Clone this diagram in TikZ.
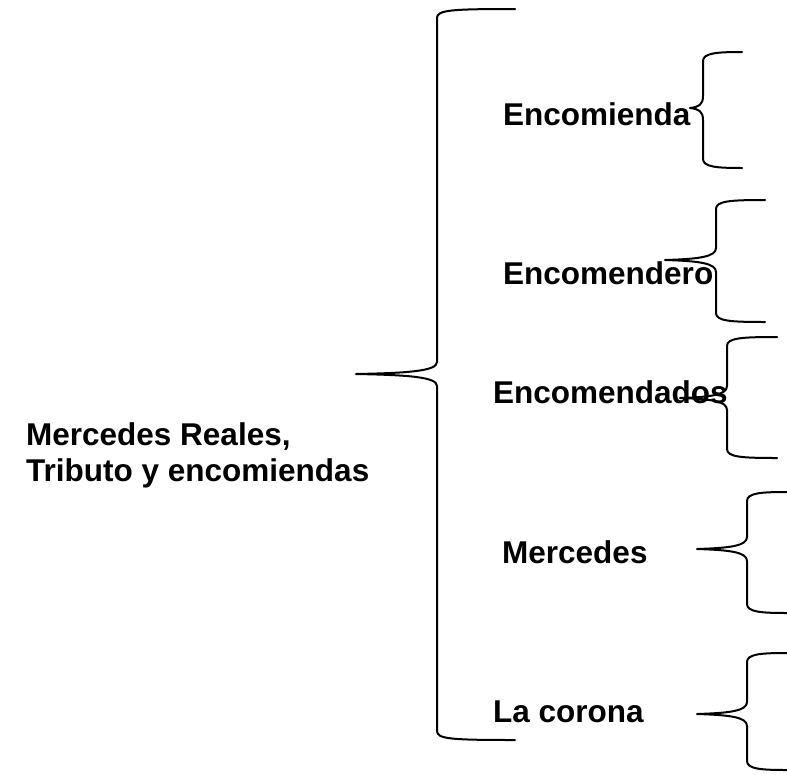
\documentclass[tikz,border=0pt]{standalone}
\usepackage{fontspec}
\setmainfont{Liberation Sans}
\newcommand\drawbrace[7]{% #1 spine x, #2 top y, #3 bottom y, #4 cusp y, #5 tip x, #6 arm end x, #7 name
  \coordinate (#7) at (#5,#4);
  \draw[braceline] (#6,#2) .. controls (#1+14,#2) and (#1,#2+1) .. (#1,#2+9)
    -- (#1,#4-12) .. controls (#1,#4-3) and ({#1-0.35*(#1-#5)},#4-1) .. (#7)
    .. controls ({#1-0.35*(#1-#5)},#4+1) and (#1,#4+3) .. (#1,#4+12)
    -- (#1,#3-9) .. controls (#1,#3-1) and (#1+14,#3) .. (#6,#3);
}
\tikzset{
  braceline/.style={line width=2pt, line cap=round, line join=round},
  lbl/.style={inner sep=0pt, anchor=base west, font=\fontsize{31.5}{37}\selectfont\bfseries},
  mainlbl/.style={inner sep=0pt, anchor=base west, align=left, font=\fontsize{31.5}{36}\selectfont\bfseries}
}
\begin{document}
\begin{tikzpicture}[x=1pt, y=-1pt]
\useasboundingbox (0,0) rectangle (787,774);
\node[mainlbl] (main) at (26,481) {Mercedes Reales,\\Tributo y encomiendas};
\node[lbl] (l1) at (503,125) {Encomienda};
\node[lbl] (l2) at (503,284) {Encomendero};
\node[lbl] (l3) at (493,403) {Encomendados};
\node[lbl] (l4) at (502,563) {Mercedes};
\node[lbl] (l5) at (493,722) {La corona};
\drawbrace{437}{9}{740}{374}{356}{515}{b0}
\drawbrace{703}{52}{168}{108}{690}{742}{b1}
\drawbrace{716}{200}{322}{260}{665}{765}{b2}
\drawbrace{727}{337}{458}{398}{680}{777}{b3}
\drawbrace{747}{492}{613}{549}{697}{787}{b4}
\drawbrace{747}{653}{770}{714}{697}{787}{b5}
\end{tikzpicture}
\end{document}
